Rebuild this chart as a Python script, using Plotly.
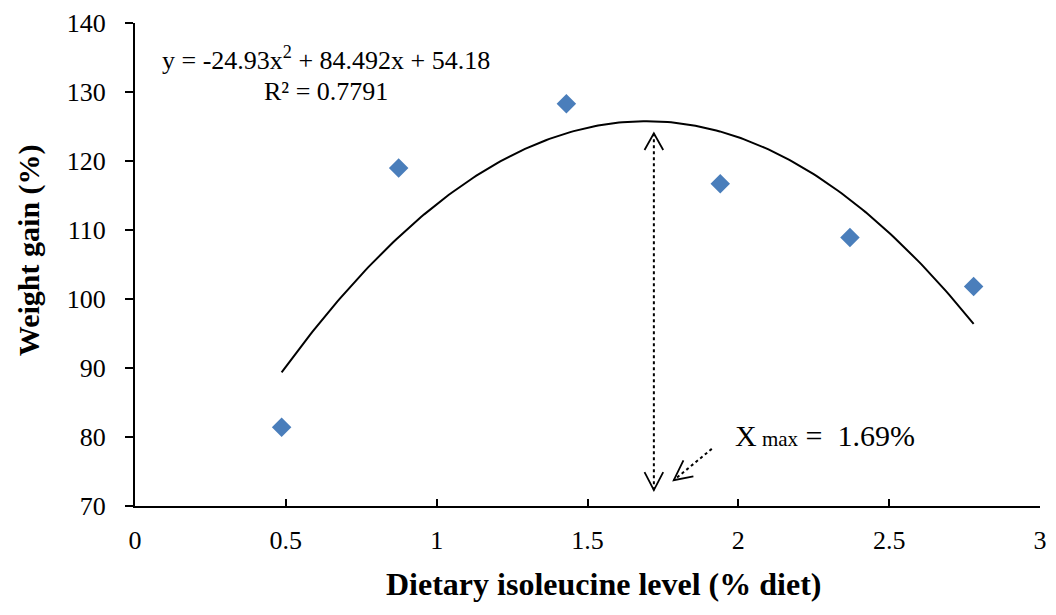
import numpy as np
import plotly.graph_objects as go

# Data
iso_level = [0.486, 0.874, 1.43, 1.94, 2.37, 2.78]
weight_gain = [81.4, 119.0, 128.3, 116.7, 108.9, 101.8]

# Quadratic trendline coefficients (as printed on chart)
coef_a, coef_b, coef_c = -24.93, 84.492, 54.18
equation_text = "y = -24.93x<sup>2</sup> + 84.492x + 54.18"
r2_text = "R² = 0.7791"
xmax_value = "1.69%"
x_title = "Dietary isoleucine level (% diet)"
y_title = "Weight gain (%)"

x_ticks = [0, 0.5, 1, 1.5, 2, 2.5, 3]
y_ticks = [70, 80, 90, 100, 110, 120, 130, 140]

FONT = "Liberation Serif, Times New Roman, serif"

xfit = np.linspace(min(iso_level), max(iso_level), 200)
yfit = coef_a * xfit**2 + coef_b * xfit + coef_c

fig = go.Figure()
fig.add_trace(go.Scatter(x=xfit, y=yfit, mode="lines",
                         line=dict(color="black", width=2), hoverinfo="skip",
                         showlegend=False))
fig.add_trace(go.Scatter(x=iso_level, y=weight_gain, mode="markers",
                         marker=dict(symbol="diamond", size=15, color="#4a7ebb"),
                         showlegend=False))

# Annotation geometry (arrows)
ax_x = 1.72
top_tip, bot_tip = 124.0, 72.3
fig.add_shape(type="line", x0=ax_x, x1=ax_x, y0=bot_tip, y1=top_tip,
              line=dict(color="black", width=2, dash="dot"))
fig.add_shape(type="path",
              path=f"M {ax_x-0.031} 121.6 L {ax_x} {top_tip} L {ax_x+0.031} 121.6",
              line=dict(color="black", width=1.8))
fig.add_shape(type="path",
              path=f"M {ax_x-0.031} 74.9 L {ax_x} {bot_tip} L {ax_x+0.031} 74.9",
              line=dict(color="black", width=1.8))
fig.add_shape(type="line", x0=1.912, y0=78.28, x1=1.786, y1=73.74,
              line=dict(color="black", width=2, dash="dot"))
fig.add_shape(type="path",
              path="M 1.851 74.31 L 1.786 73.74 L 1.818 76.61",
              line=dict(color="black", width=1.8))

fig.add_annotation(x=0.632, y=134.9, text=equation_text, showarrow=False,
                   font=dict(family=FONT, size=26, color="black"))
fig.add_annotation(x=0.632, y=130.1, text=r2_text, showarrow=False,
                   font=dict(family=FONT, size=26, color="black"))
fig.add_annotation(x=1.983, y=80.2, xanchor="left",
                   text="X<span style='font-size:21px'> max</span> =  " + xmax_value,
                   showarrow=False, font=dict(family=FONT, size=30, color="black"))

# Axis titles (placed as annotations to match offsets)
fig.add_annotation(xref="paper", yref="paper", x=0.5175, y=-0.162,
                   xanchor="center", yanchor="middle",
                   text=f"<b>{x_title}</b>", showarrow=False,
                   font=dict(family=FONT, size=32, color="black"))
fig.add_annotation(xref="paper", yref="paper", x=-0.117, y=0.530,
                   xanchor="center", yanchor="middle",
                   text=f"<b>{y_title}</b>", showarrow=False, textangle=-90,
                   font=dict(family=FONT, size=30, color="black"))

fig.update_layout(
    width=1056, height=615,
    margin=dict(l=135, r=9, t=19, b=109),
    plot_bgcolor="white", paper_bgcolor="white",
    font=dict(family=FONT, size=26, color="black"),
    xaxis=dict(range=[0, 3], tickvals=x_ticks, ticktext=[str(v) for v in x_ticks],
               showgrid=False, zeroline=False, showline=True, linecolor="black",
               linewidth=2, ticks="inside", ticklen=7, tickwidth=2, tickcolor="black",
               ticklabelstandoff=10),
    yaxis=dict(range=[70, 140], tickvals=y_ticks, showgrid=False, zeroline=False,
               showline=True, linecolor="black", linewidth=2, ticks="outside",
               ticklen=8, tickwidth=2, tickcolor="black", ticklabelstandoff=14),
)

fig.write_html("out.html")
